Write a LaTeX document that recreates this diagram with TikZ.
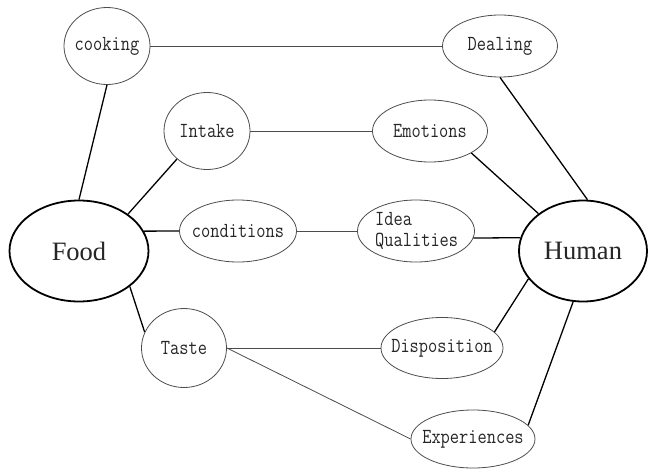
\documentclass[tikz,border=0pt]{standalone}
\usepackage{fontspec}
\usetikzlibrary{shapes.geometric}
\newfontfamily\hubfont{Liberation Serif}
% labels are centred in a zero-width box so the ellipse keeps its given size
\newcommand{\tall}[1]{\makebox[0pt]{\scalebox{1}[1.2]{#1}}}
\tikzset{
  leaftext/.style={text=black!85, font=\ttfamily\fontsize{17.9}{22}\selectfont},
  leaf/.style={ellipse, draw=black!70, line width=0.8pt, inner sep=0pt, leaftext},
  hub/.style={ellipse, draw=black, line width=1.8pt, inner sep=0pt,
    text=black!85, font=\hubfont\fontsize{26.5}{30}\selectfont},
  strong/.style={draw=black, line width=1.3pt},
  weak/.style={draw=black!70, line width=0.8pt}
}
\begin{document}
\begin{tikzpicture}[x=1pt,y=-1pt]
\useasboundingbox (0,0) rectangle (649,469);
% central concepts
\node[hub, minimum width=139pt, minimum height=101pt] (food) at (79,251) {\makebox[0pt]{Food}};
\node[hub, minimum width=128pt, minimum height=101pt] (human) at (583,251) {\makebox[0pt]{Human}};
% food side
\node[leaf, minimum width=86pt, minimum height=77pt] (cooking) at (107,46) {\tall{cooking}};
\node[leaf, minimum width=86pt, minimum height=77pt] (intake) at (207,131) {\tall{Intake}};
\node[leaf, minimum width=117pt, minimum height=62pt] (cond) at (238,231) {\tall{conditions}};
\node[leaf, minimum width=85pt, minimum height=79pt] (taste) at (184,348) {\tall{Taste}};
% human side
\node[leaf, minimum width=115pt, minimum height=62pt] (dealing) at (500,46) {\tall{Dealing}};
\node[leaf, minimum width=115pt, minimum height=62pt] (emotions) at (430,131) {\tall{Emotions}};
\node[leaf, minimum width=117pt, minimum height=62pt] (idea) at (416,231) {};
\node[leaftext, anchor=west, inner sep=0pt] (idealbl) at (375,219) {\scalebox{1}[1.2]{Idea}};
\node[leaftext, anchor=west, inner sep=0pt] (quallbl) at (375,241) {\scalebox{1}[1.2]{Qualities}};
\node[leaf, minimum width=122pt, minimum height=61pt] (disp) at (442,348) {\tall{Disposition}};
\node[leaf, minimum width=124pt, minimum height=58pt] (exp) at (473,439) {\tall{Experiences}};
% links from the two hubs
\draw[strong] (food.north) -- (cooking.south);
\draw[strong] (food.37) -- (intake.223);
\draw[strong] (food.17) -- (cond.west);
\draw[strong] (food.-35) -- (taste.158);
\draw[strong] (human.85) -- (dealing.south);
\draw[strong] (human.140) -- (emotions.-28);
\draw[strong] (human.168) -- (idea.-7);
\draw[strong] (human.207) -- (disp.17);
\draw[strong] (human.259) -- (exp.14);
% cross links
\draw[weak] (cooking.east) -- (dealing.west);
\draw[weak] (intake.east) -- (emotions.west);
\draw[weak] (cond.east) -- (idea.west);
\draw[weak] (taste.east) -- (disp.west);
\draw[weak] (taste.east) -- (exp.west);
\end{tikzpicture}
\end{document}
